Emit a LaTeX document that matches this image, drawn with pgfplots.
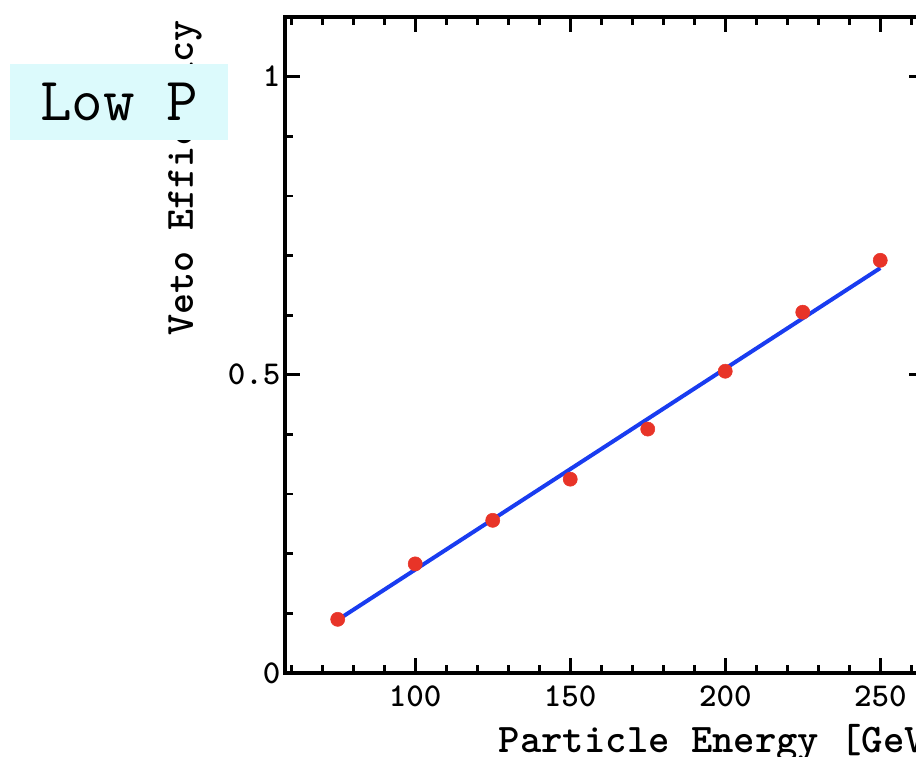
\documentclass[border=0pt]{standalone}
\usepackage{fontspec}
\usepackage{pgfplots}
\pgfplotsset{compat=1.18}
\definecolor{ptred}{RGB}{232,52,40}
\definecolor{fitblue}{RGB}{25,60,240}
\definecolor{boxcyan}{RGB}{220,250,252}
\begin{document}
\begin{tikzpicture}[font=\ttfamily]
\useasboundingbox (-213.75pt,-62.25pt) rectangle (473.25pt,504.75pt);
\begin{axis}[
 at={(0,0)}, anchor=south west, scale only axis,
 width=479pt, height=492pt,
 xmin=58, xmax=264, ymin=0, ymax=1.1,
 xtick={100,150,200,250}, minor xtick={60,70,80,90,110,120,130,140,160,170,180,190,210,220,230,240,260},
 ytick={0,0.5,1}, yticklabels={0,0.5,1},
 minor ytick={0.1,0.2,0.3,0.4,0.6,0.7,0.8,0.9},
 tick align=inside,
 major tick length=11pt, minor tick length=6pt,
 every tick/.style={black, line width=2pt},
 axis line style={line width=3pt},
 /pgf/number format/assume math mode=true,
 ticklabel style={font=\ttfamily\bfseries\fontsize{25}{28}\selectfont},
 xticklabel style={yshift=-6pt},
 xlabel={Particle Energy [GeV]},
 xlabel style={at={(axis cs:199.3,0)}, anchor=north, inner sep=0pt, yshift=-38pt, font=\ttfamily\bfseries\fontsize{30.5}{33}\selectfont},
 ylabel={Veto Efficiency},
 ylabel style={at={(axis cs:25.7,0.83)}, anchor=center, inner sep=0pt, font=\ttfamily\bfseries\fontsize{30}{33}\selectfont},
]
\addplot[fitblue, line width=3pt, no marks] coordinates {(75,0.089) (250,0.679)};
\addplot[only marks, mark=*, mark size=5.3pt, mark options={draw=ptred, fill=ptred}] coordinates {
(75,0.090) (100,0.183) (125,0.256) (150,0.325) (175,0.409) (200,0.506) (225,0.605) (250,0.692)};
\end{axis}
\node[fill=boxcyan, minimum width=163.5pt, minimum height=57pt, inner sep=0pt, font=\ttfamily\fontsize{46}{50}\selectfont] at (-124.5pt,428.25pt) {Low P};
\end{tikzpicture}
\end{document}
